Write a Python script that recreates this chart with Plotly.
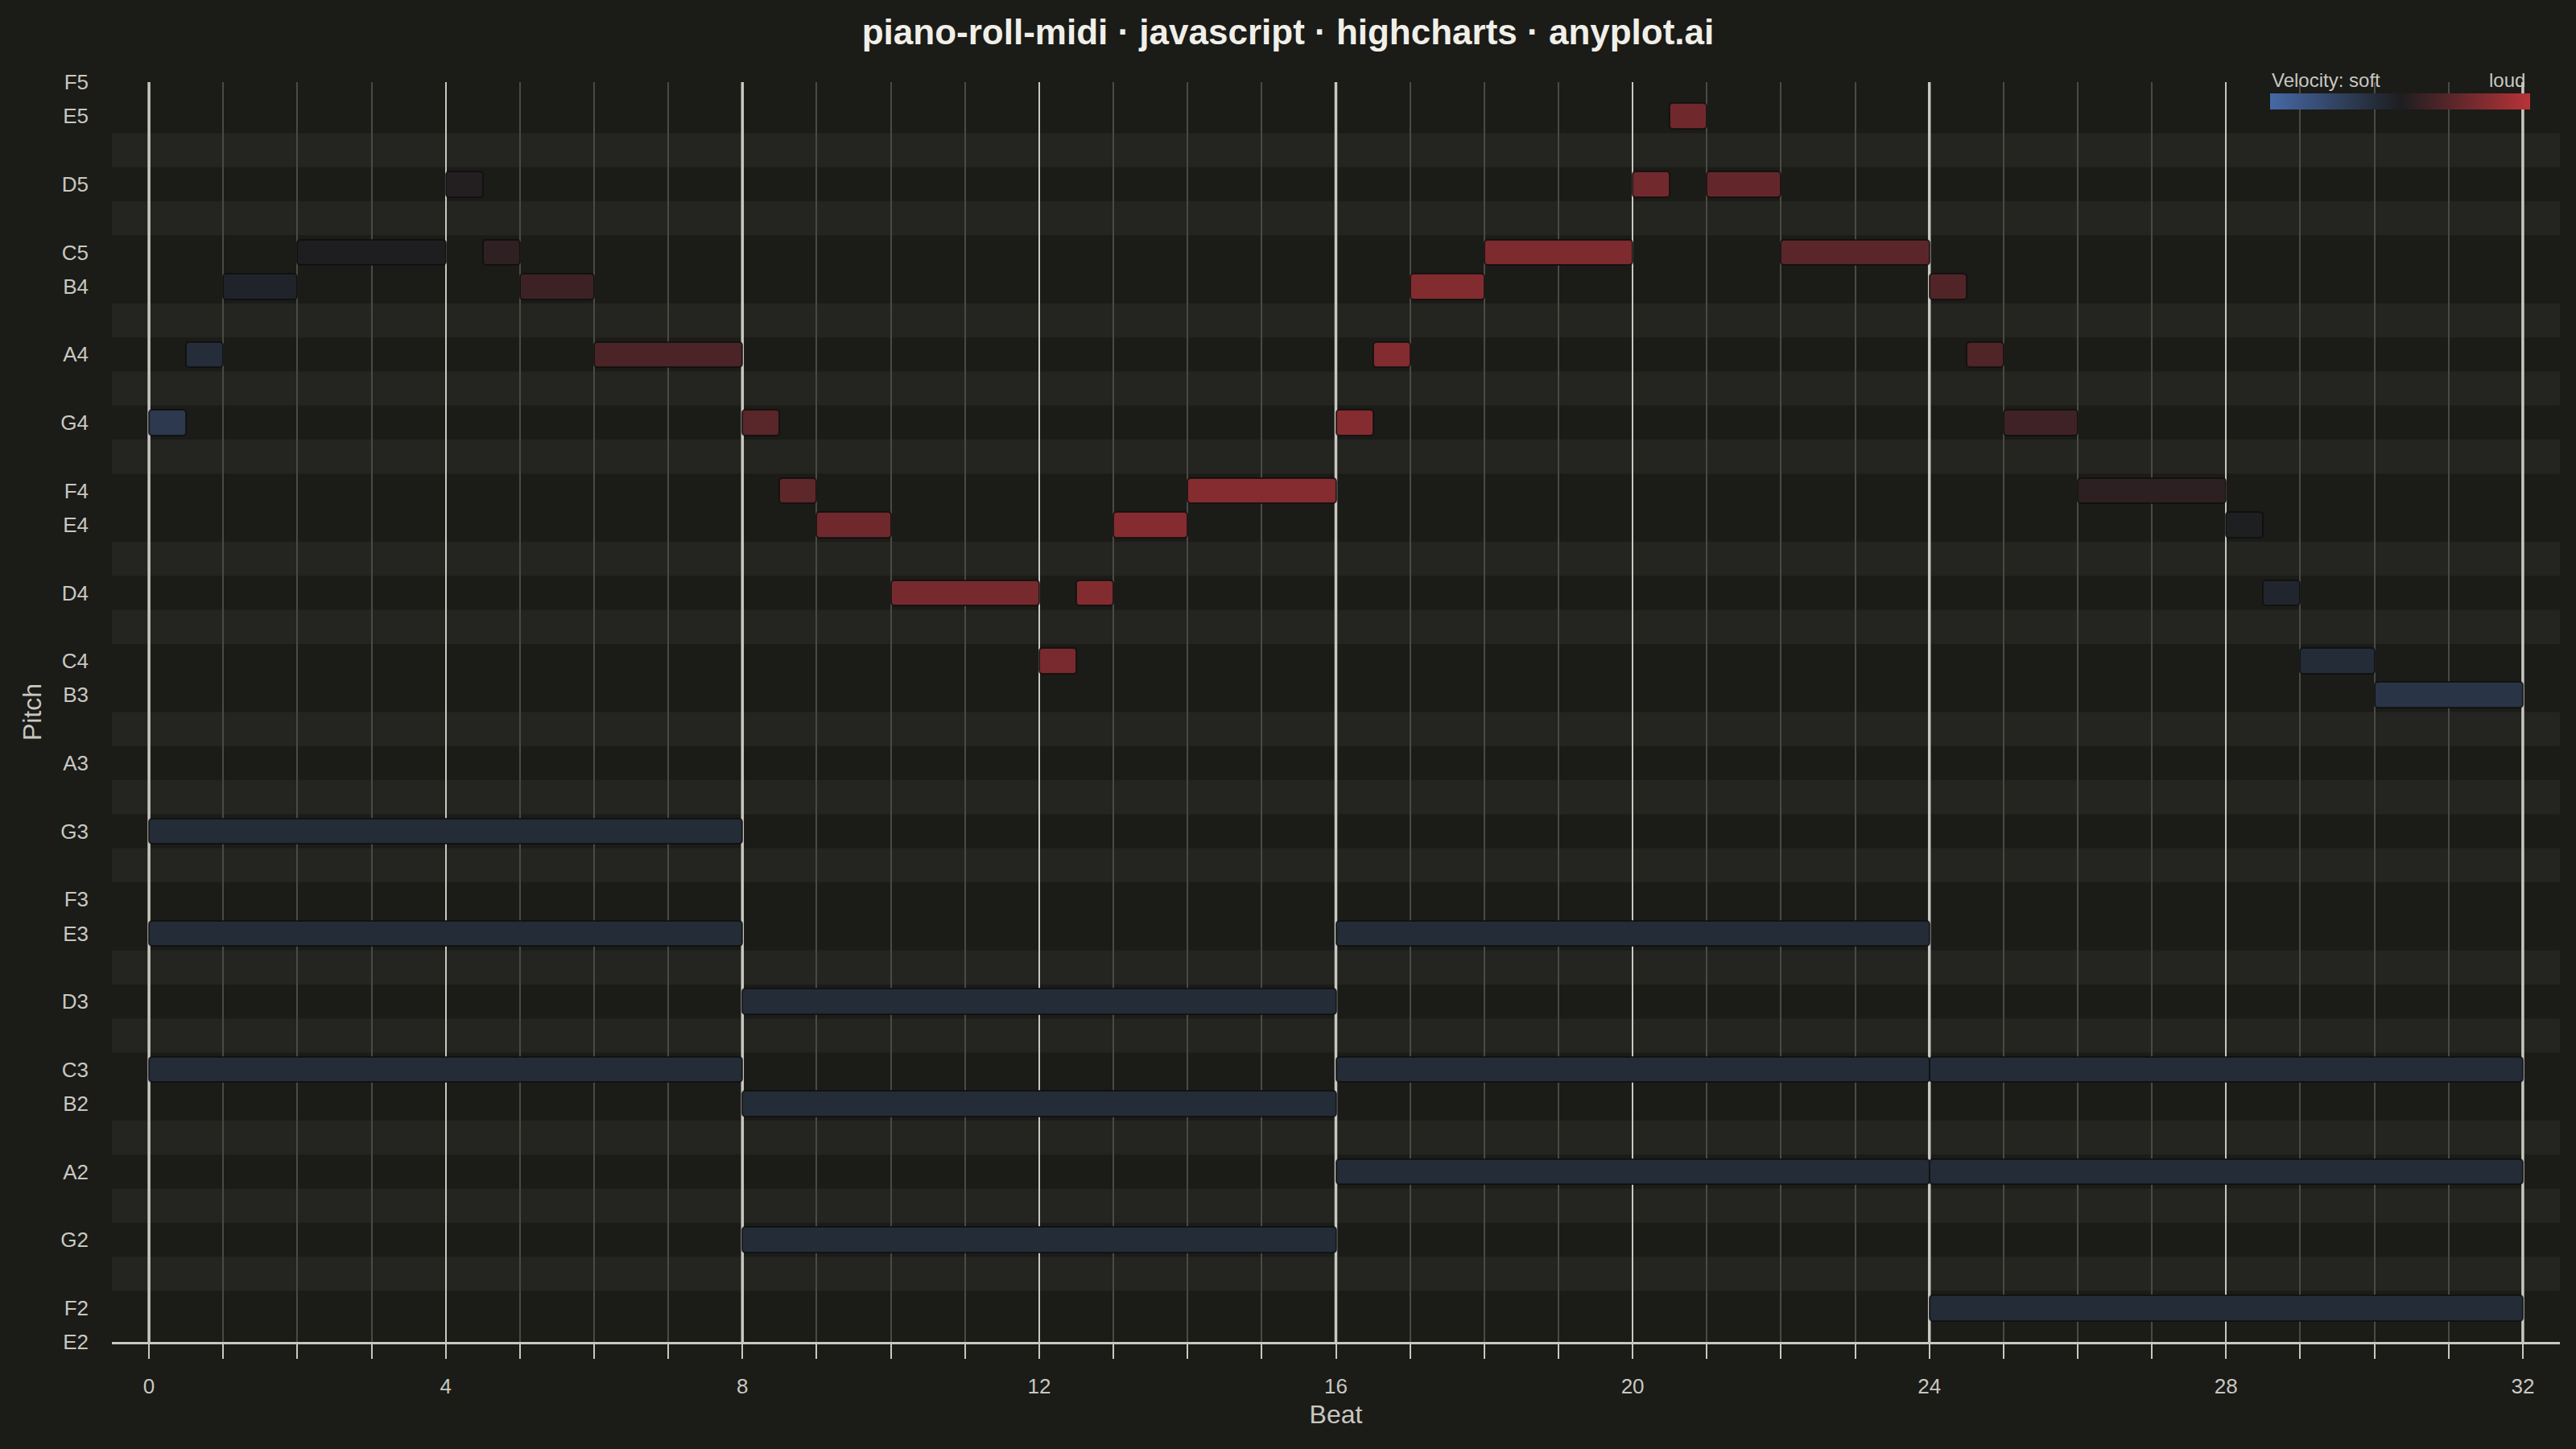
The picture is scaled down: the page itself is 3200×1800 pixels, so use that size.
import plotly.graph_objects as go

# ---------------- data ----------------
melody_start = [0, 0.5, 1, 2, 4, 4.5, 5, 6,
                8, 8.5, 9, 10, 12, 12.5, 13, 14,
                16, 16.5, 17, 18, 20, 20.5, 21, 22,
                24, 24.5, 25, 26, 28, 28.5, 29, 30]
melody_dur = [0.5, 0.5, 1, 2, 0.5, 0.5, 1, 2,
              0.5, 0.5, 1, 2, 0.5, 0.5, 1, 2,
              0.5, 0.5, 1, 2, 0.5, 0.5, 1, 2,
              0.5, 0.5, 1, 2, 0.5, 0.5, 1, 2]
melody_pitch = [67, 69, 71, 72, 74, 72, 71, 69,
                67, 65, 64, 62, 60, 62, 64, 65,
                67, 69, 71, 72, 74, 76, 74, 72,
                71, 69, 67, 65, 64, 62, 60, 59]
melody_vel = [41, 51, 59, 64, 66, 71, 76, 82,
              88, 90, 97, 100, 101, 105, 106, 106,
              106, 105, 105, 103, 98, 97, 92, 89,
              85, 84, 77, 70, 63, 57, 52, 45]

bass_start = [0, 0, 0, 8, 8, 8, 16, 16, 16, 24, 24, 24]
bass_dur = [8, 8, 8, 8, 8, 8, 8, 8, 8, 8, 8, 8]
bass_pitch = [55, 52, 48, 50, 47, 43, 52, 48, 45, 48, 45, 41]
bass_vel = [52, 52, 52, 52, 52, 52, 52, 52, 52, 52, 52, 52]

pitch_tickvals = [40, 41, 43, 45, 47, 48, 50, 52, 53, 55, 57, 59,
                  60, 62, 64, 65, 67, 69, 71, 72, 74, 76, 77]
pitch_ticktext = ["E2", "F2", "G2", "A2", "B2", "C3", "D3", "E3", "F3", "G3", "A3", "B3",
                  "C4", "D4", "E4", "F4", "G4", "A4", "B4", "C5", "D5", "E5", "F5"]
black_keys = [42, 44, 46, 49, 51, 54, 56, 58, 61, 63, 66, 68, 70, 73, 75]
bar_lines = [0, 8, 16, 24, 32]
beat_ticks = [0, 4, 8, 12, 16, 20, 24, 28, 32]

# ---------------- style ----------------
BG = "#1b1b18"
STRIPE = "#242520"
TEXT = "#c8c8c0"
FONT = "Liberation Sans, Arial, sans-serif"
VEL_SCALE = [[0.0, "#4669a6"], [0.5, "#1d1e20"], [1.0, "#b83338"]]
VMIN, VMAX = 0, 127

fig = go.Figure()

common_marker = dict(colorscale=VEL_SCALE, cmin=VMIN, cmax=VMAX,
                     line=dict(color="rgba(14,14,12,0.75)", width=2),
                     cornerradius=4)

fig.add_trace(go.Bar(
    orientation="h", y=bass_pitch, x=bass_dur, base=bass_start, width=0.75,
    marker=dict(color=bass_vel, **common_marker),
    showlegend=False, name="bass"))

fig.add_trace(go.Bar(
    orientation="h", y=melody_pitch, x=melody_dur, base=melody_start, width=0.75,
    marker=dict(color=melody_vel, showscale=True,
                colorbar=dict(orientation="h", x=0.8816, xanchor="left",
                              y=0.978, yanchor="bottom", len=0.1062, lenmode="fraction",
                              thickness=20, thicknessmode="pixels",
                              outlinewidth=0, showticklabels=False, ticks="",
                              xpad=0, ypad=0),
                **common_marker),
    showlegend=False, name="melody"))

shapes = []
for p in black_keys:
    shapes.append(dict(type="rect", xref="x domain", x0=0, x1=1, yref="y",
                       y0=p - 0.5, y1=p + 0.5, fillcolor=STRIPE,
                       line=dict(width=0), layer="below"))
for b in bar_lines:
    shapes.append(dict(type="line", xref="x", x0=b, x1=b, yref="y domain", y0=0, y1=1,
                       line=dict(color=TEXT, width=3.5), layer="below"))

fig.update_layout(
    width=3200, height=1800,
    paper_bgcolor=BG, plot_bgcolor=BG,
    margin=dict(l=139, r=20, t=102, b=133),
    barmode="overlay",
    bargap=0,
    font=dict(family=FONT, color=TEXT, size=24),
    title=dict(text="<b>piano-roll-midi · javascript · highcharts · anyplot.ai</b>",
               x=0.5, xanchor="center", y=1 - 40 / 1800, yanchor="middle",
               font=dict(family=FONT, size=44, color="#f0efe8")),
    shapes=shapes,
    annotations=[
        dict(text="Velocity: soft", xref="paper", yref="paper", x=0.8816, y=1.0013,
             xanchor="left", yanchor="middle", showarrow=False,
             font=dict(size=24, color=TEXT)),
        dict(text="loud", xref="paper", yref="paper", x=0.9866, y=1.0013,
             xanchor="right", yanchor="middle", showarrow=False,
             font=dict(size=24, color=TEXT)),
    ],
    xaxis=dict(range=[-0.5, 32.5], tickvals=beat_ticks, showgrid=True,
               gridcolor="#c8c8c0", gridwidth=2,
               zeroline=False, showline=True, linecolor=TEXT, linewidth=3,
               ticks="outside", ticklen=18, tickwidth=2, tickcolor=TEXT,
               tickfont=dict(size=26, color=TEXT), ticklabelstandoff=12,
               minor=dict(dtick=1, tick0=0, showgrid=True, gridcolor="#4a4a45", gridwidth=2,
                          ticks="outside", ticklen=18, tickwidth=2, tickcolor=TEXT),
               title=dict(text="Beat", font=dict(size=32, color=TEXT), standoff=10),
               automargin=False),
    yaxis=dict(range=[40, 77], tickvals=pitch_tickvals, ticktext=pitch_ticktext,
               showgrid=False, zeroline=False, showline=False, ticks="",
               tickfont=dict(size=26, color=TEXT), ticklabelstandoff=28,
               title=dict(text="Pitch", font=dict(size=32, color=TEXT), standoff=14),
               automargin=False),
)

fig.write_html("out.html", config={"displayModeBar": False},
               post_script="document.body.style.margin='0';")
